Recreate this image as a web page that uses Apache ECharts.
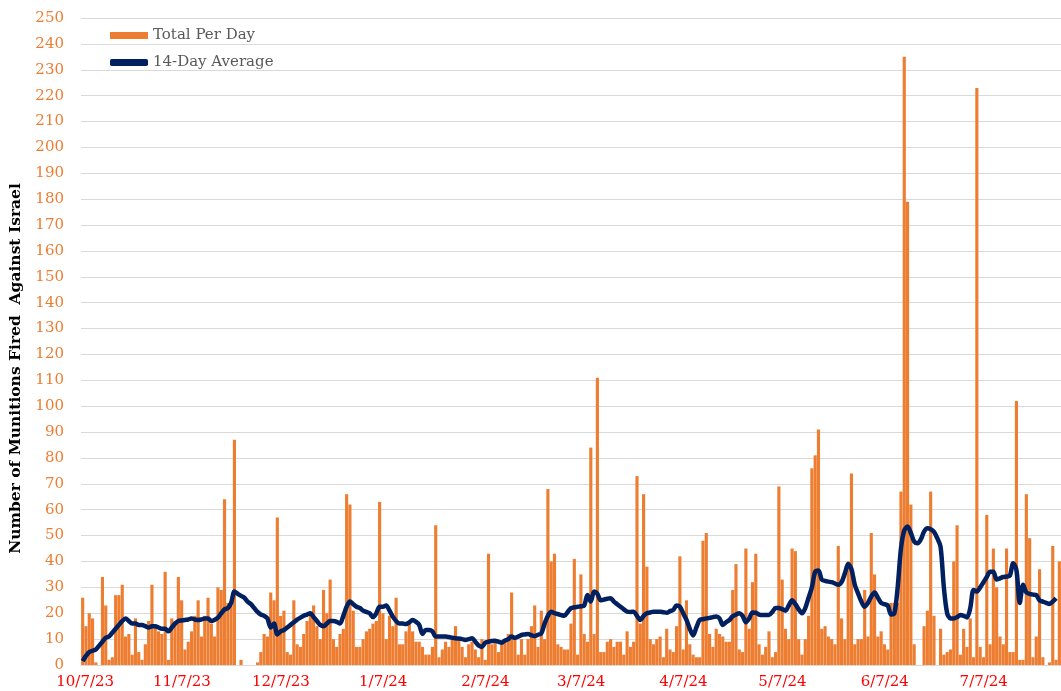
<!DOCTYPE html>
<html>
<head>
<meta charset="utf-8">
<script src="https://cdn.jsdelivr.net/npm/echarts@6/dist/echarts.min.js"></script>
<style>
  html, body { margin: 0; padding: 0; background: #fff; }
  #chart { width: 1061px; height: 691px; }
</style>
</head>
<body>
<div id="chart"></div>
<script>
// daily totals, starting 10/7/23
const totalPerDay = [
  26, 15, 20, 18, 1, 0, 34, 23, 2, 3,
  27, 27, 31, 11, 12, 4, 18, 5, 2, 8,
  17, 31, 15, 13, 12, 36, 2, 18, 17, 34,
  25, 6, 9, 13, 19, 25, 11, 19, 26, 16,
  11, 30, 29, 64, 24, 23, 87, 0, 2, 0,
  0, 0, 0, 1, 5, 12, 11, 28, 25, 57,
  19, 21, 5, 4, 25, 8, 7, 12, 17, 19,
  23, 15, 10, 29, 20, 33, 10, 7, 12, 14,
  66, 62, 21, 7, 7, 10, 13, 14, 16, 17,
  63, 20, 10, 19, 15, 26, 8, 8, 13, 16,
  13, 9, 9, 7, 4, 4, 7, 54, 3, 6,
  9, 7, 11, 15, 10, 7, 3, 8, 9, 6,
  3, 10, 2, 43, 8, 9, 5, 8, 10, 12,
  28, 10, 4, 10, 4, 10, 15, 23, 7, 21,
  10, 68, 40, 43, 8, 7, 6, 6, 16, 41,
  4, 35, 12, 9, 84, 12, 111, 5, 5, 9,
  10, 7, 9, 9, 4, 13, 7, 9, 73, 16,
  66, 38, 10, 8, 10, 11, 3, 14, 6, 5,
  15, 42, 6, 25, 8, 4, 3, 3, 48, 51,
  12, 7, 14, 12, 11, 9, 9, 29, 39, 6,
  5, 45, 14, 32, 43, 8, 4, 7, 13, 3,
  5, 69, 33, 14, 10, 45, 44, 10, 4, 10,
  19, 76, 81, 91, 14, 15, 11, 10, 8, 46,
  18, 10, 40, 74, 8, 10, 10, 29, 11, 51,
  35, 11, 13, 8, 6, 24, 24, 24, 67, 235,
  179, 62, 8, 0, 0, 15, 21, 67, 19, 0,
  14, 4, 5, 6, 40, 54, 4, 14, 7, 18,
  3, 223, 7, 3, 58, 8, 45, 30, 11, 8,
  45, 5, 5, 102, 2, 2, 66, 49, 3, 11,
  37, 3, 0, 1, 46, 2, 40
]

// 14-day average
const avg14 = [
  1.5, 3.5, 5, 5.5, 6, 7.5, 9, 10.5, 11, 12.5,
  14, 15.5, 17, 18, 17, 16, 16, 15.5, 15.5, 15,
  14.5, 15, 15, 14.5, 14, 14, 13, 14.5, 16, 17,
  17.2, 17.4, 17.6, 18, 17.6, 17.4, 17.6, 18, 18, 17,
  17.5, 18.3, 20, 21.5, 22, 24, 28.4, 27.5, 26.7, 26,
  24.5, 23.5, 22, 20.5, 19.5, 19, 18, 14.5, 16, 11.8,
  13, 13.5, 14.5, 15.5, 16.5, 17.5, 18.3, 19, 19.5, 20,
  18.5, 17, 15.5, 15, 16, 17, 17, 16.7, 16, 19,
  22.5, 24.5, 23.5, 22.5, 22, 21, 20.5, 20, 18.5, 20,
  22.5, 22.5, 23, 21, 18.7, 17, 16, 16, 15.8, 16.5,
  17.4, 16.7, 15.5, 12, 13.5, 13.5, 13, 11, 11, 11,
  11, 10.8, 10.5, 10.3, 10.2, 10, 9.7, 10, 10.3, 9,
  7.5, 7, 8.6, 9, 9.3, 9.4, 9, 8.6, 9.5, 10,
  11, 10.5, 11, 11.6, 11.8, 12, 11.5, 11.2, 11.7, 12.2,
  16, 19, 20.6, 20, 19.7, 19.3, 19, 20.5, 22, 22.3,
  22.5, 22.7, 23, 27, 24.5, 28.4, 27.5, 25, 25.3, 25.6,
  25.8, 24.5, 23.5, 22.5, 21.5, 20.6, 20.5, 20.6, 19, 17.4,
  19, 20, 20.3, 20.6, 20.6, 20.6, 20.4, 20.2, 20.8, 21.3,
  23, 22.5, 20, 17.4, 14, 11.4, 14.5, 17.4, 17.7, 18,
  18.2, 18.5, 18.7, 18, 15.5, 16.5, 17.4, 18.8, 19.5, 20,
  19, 16.5, 18, 20.3, 20.2, 19.5, 19.3, 19.3, 19.3, 20.5,
  22, 22, 21.6, 21, 23, 25, 23.5, 21.5, 20, 22,
  26, 30, 36, 36.5, 33, 32.5, 32.2, 32, 31.5, 31,
  32, 35.4, 39, 37, 31, 27.7, 24.5, 22.5, 24, 26.5,
  28, 26, 24, 23.5, 23, 19.5, 20, 30, 45, 52,
  53.5, 51, 47.7, 47, 48.5, 51.5, 52.8, 52.5, 51.5, 49,
  45.7, 30, 20, 18, 18, 18.5, 19.3, 19, 18.4, 22,
  29, 28.4, 30, 32, 34, 36, 36, 33, 33.5, 34,
  34.2, 34.5, 39.3, 36.7, 24, 31, 28, 27.5, 27.2, 27,
  25, 24.5, 24, 23.6, 24.5, 25.8
]

const tickLabels = ['10/7/23', '11/7/23', '12/7/23', '1/7/24', '2/7/24',
  '3/7/24', '4/7/24', '5/7/24', '6/7/24', '7/7/24']

const days = []
const start = Date.UTC(2023, 9, 7)
for (let i = 0; i < totalPerDay.length; i++) {
  const d = new Date(start + i * 86400000)
  days.push((d.getUTCMonth() + 1) + '/' + d.getUTCDate() + '/' + String(d.getUTCFullYear()).slice(2))
}

const font = 'DejaVu Serif'
const chart = echarts.init(document.getElementById('chart'))

const option = {
  backgroundColor: '#fff',
  animation: false,
  grid: {
    left: 75,
    right: -1,
    top: 18,
    bottom: 26
  },
  legend: {
    orient: 'vertical',
    left: 105,
    top: 23,
    itemWidth: 38,
    itemHeight: 7,
    itemGap: 12,
    textStyle: { color: '#595959', fontSize: 15, fontFamily: font },
    data: [
      { name: 'Total Per Day', icon: 'rect' },
      { name: '14-Day Average', icon: 'roundRect', itemStyle: { color: '#002060' } }
    ]
  },
  xAxis: {
    type: 'category',
    data: days,
    axisTick: { show: false },
    axisLine: { lineStyle: { color: '#D9D9D9' } },
    axisLabel: {
      interval: function (index, value) { return tickLabels.indexOf(value) >= 0 },
      // the first label gets pushed left of its day, pull it back under the bar
      formatter: function (value, index) {
        return index === 0 ? '{first|' + value + '}' : value
      },
      rich: {
        first: {
          color: '#FF0000',
          fontSize: 15,
          fontFamily: font,
          padding: [0, -11, 0, 0]
        }
      },
      color: '#FF0000',
      fontSize: 15,
      fontFamily: font,
      margin: 10,
      padding: [0, 6, 0, 0]
    }
  },
  yAxis: {
    type: 'value',
    min: 0,
    max: 250,
    interval: 10,
    name: 'Number of Munitions Fired  Against Israel',
    nameLocation: 'middle',
    nameRotate: 90,
    nameGap: 57,
    nameTextStyle: {
      color: '#000',
      fontSize: 15.5,
      fontWeight: 'bold',
      fontFamily: font,
      padding: [0, 54, 0, 0]
    },
    axisLabel: { color: '#ED7D31', fontSize: 15, fontFamily: font, margin: 17 },
    splitLine: { lineStyle: { color: '#D9D9D9', width: 1 } }
  },
  series: [
    {
      name: 'Total Per Day',
      type: 'bar',
      data: totalPerDay,
      barCategoryGap: '5%',
      itemStyle: { color: '#ED7D31' }
    },
    {
      name: '14-Day Average',
      type: 'line',
      data: avg14,
      smooth: 0.3,
      symbol: 'none',
      lineStyle: { color: '#002060', width: 4.5 },
      itemStyle: { color: '#002060' }
    }
  ]
}

chart.setOption(option)
</script>
</body>
</html>
